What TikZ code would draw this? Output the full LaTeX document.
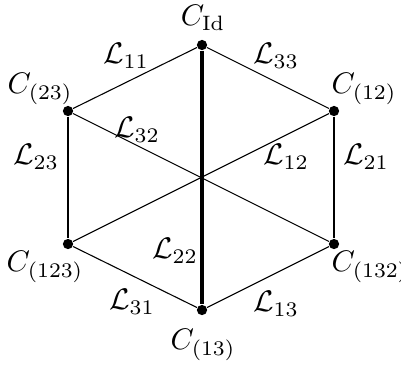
\documentclass[tikz,border=0pt]{standalone}
\usepackage{fix-cm}
\begin{document}
\begin{tikzpicture}[x=0.37pt,y=-0.37pt,
  vtx/.style={circle,fill=black,inner sep=0pt,minimum size=3.8pt},
  lbl/.style={inner sep=0pt,font=\fontsize{11}{13}\selectfont},
  thin edge/.style={line width=0.4pt},
  edge a/.style={line width=1.5pt},
  edge b/.style={line width=1.1pt},
  edge c/.style={line width=0.75pt}]
\useasboundingbox (0,0) rectangle (401,364);
\node[vtx] (id) at (202,45) {};
\node[vtx] (c23) at (68,111) {};
\node[vtx] (c12) at (334,111) {};
\node[vtx] (c123) at (68,244) {};
\node[vtx] (c132) at (334,244) {};
\node[vtx] (c13) at (202,310) {};
% edges
\draw[thin edge] (id) -- (c23);
\draw[thin edge] (id) -- (c12);
\draw[thin edge] (c123) -- (c13);
\draw[thin edge] (c132) -- (c13);
\draw[thin edge] (c23) -- (c132);
\draw[thin edge] (c12) -- (c123);
\draw[edge a] (id) -- (c13);
\draw[edge b] (c23) -- (c123);
\draw[edge c] (c12) -- (c132);
% vertex labels
\node[lbl] (tid) at (203,18) {$C_{\mathrm{Id}}$};
\node[lbl] (t23) at (40,89) {$C_{(23)}$};
\node[lbl] (t12) at (364,89) {$C_{(12)}$};
\node[lbl] (t123) at (45,267) {$C_{(123)}$};
\node[lbl] (t132) at (370,267) {$C_{(132)}$};
\node[lbl] (t13) at (203,345) {$C_{(13)}$};
% edge labels
\node[lbl] (l11) at (126,56) {$\mathcal{L}_{11}$};
\node[lbl] (l33) at (276,56) {$\mathcal{L}_{33}$};
\node[lbl] (l32) at (137,130) {$\mathcal{L}_{32}$};
\node[lbl] (l12) at (286,157) {$\mathcal{L}_{12}$};
\node[lbl] (l23) at (36,157) {$\mathcal{L}_{23}$};
\node[lbl] (l21) at (366,157) {$\mathcal{L}_{21}$};
\node[lbl] (l22) at (175,251) {$\mathcal{L}_{22}$};
\node[lbl] (l31) at (132,302) {$\mathcal{L}_{31}$};
\node[lbl] (l13) at (276,304) {$\mathcal{L}_{13}$};
\end{tikzpicture}
\end{document}
